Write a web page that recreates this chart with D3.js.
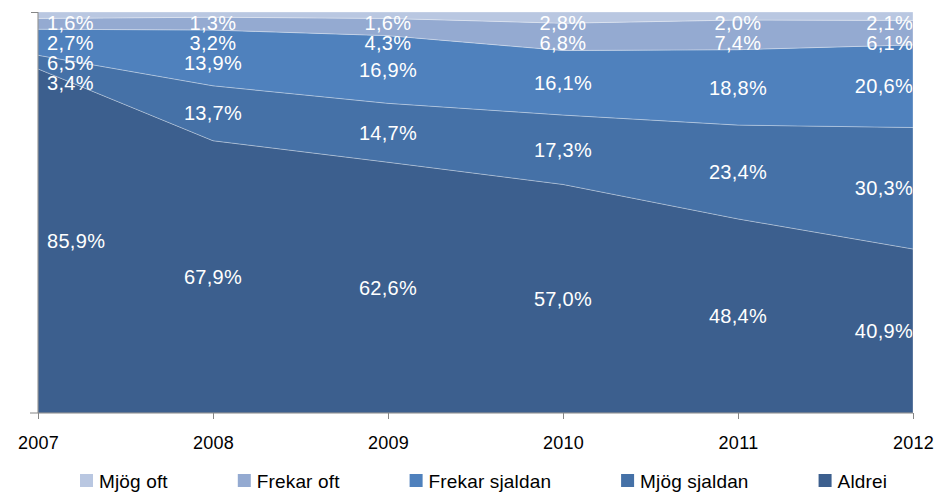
<!doctype html>
<html lang="sv">
<head>
<meta charset="UTF-8">
<title>Stacked area</title>
<script src="https://cdn.jsdelivr.net/npm/d3@7/dist/d3.min.js"></script>
<style>
  html, body { margin: 0; padding: 0; background: #fff; }
  svg text { font-family: "Liberation Sans", Arial, sans-serif; }
</style>
</head>
<body>
<div id="chart"></div>
<script>
// data (percent)
const years = [2007, 2008, 2009, 2010, 2011, 2012]
const seriesNames = ["Mjög oft", "Frekar oft", "Frekar sjaldan", "Mjög sjaldan", "Aldrei"]
const mjogOft       = [1.6, 1.3, 1.6, 2.8, 2.0, 2.1]
const frekarOft     = [2.7, 3.2, 4.3, 6.8, 7.4, 6.1]
const frekarSjaldan = [6.5, 13.9, 16.9, 16.1, 18.8, 20.6]
const mjogSjaldan   = [3.4, 13.7, 14.7, 17.3, 23.4, 30.3]
const aldrei        = [85.9, 67.9, 62.6, 57.0, 48.4, 40.9]

const colors = ["#b9c7e1", "#94aad1", "#4f81bd", "#4571a7", "#3c5f8e"]

const W = 939, H = 492
const plotLeft = 38, plotRight = 913, plotTop = 12, plotBottom = 413

// rows for d3.stack, bottom series first
const stackKeys = ["Aldrei", "Mjög sjaldan", "Frekar sjaldan", "Frekar oft", "Mjög oft"]
const valuesByName = {
    "Mjög oft": mjogOft, "Frekar oft": frekarOft, "Frekar sjaldan": frekarSjaldan,
    "Mjög sjaldan": mjogSjaldan, "Aldrei": aldrei
}
const rows = years.map((yr, i) => {
    let r = {year: yr}
    seriesNames.forEach(n => r[n] = valuesByName[n][i])
    return r
})

const stacked = d3.stack().keys(stackKeys).offset(d3.stackOffsetExpand)(rows)

const x = d3.scaleLinear().domain([years[0], years[years.length - 1]]).range([plotLeft, plotRight])
const y = d3.scaleLinear().domain([0, 1]).range([plotBottom, plotTop])

const svg = d3.select("#chart").append("svg").attr("width", W).attr("height", H)

const area = d3.area()
    .x(d => x(d.data.year))
    .y0(d => y(d[0]))
    .y1(d => y(d[1]))

const colorOf = name => colors[seriesNames.indexOf(name)]

svg.append("g").selectAll("path")
    .data(stacked)
    .join("path")
    .attr("d", area)
    .attr("fill", d => colorOf(d.key))
    .attr("stroke", "rgba(255,255,255,0.3)")
    .attr("stroke-width", 1)

// axes
const axisColor = "#868686"
const xAxis = svg.append("g").attr("transform", `translate(0,${plotBottom})`)
    .call(d3.axisBottom(x).tickValues(years).tickFormat(d3.format("d")).tickSize(6).tickPadding(17))
xAxis.select(".domain").attr("stroke", axisColor).attr("d", `M${plotLeft - 8},0H${plotRight}`)
xAxis.selectAll(".tick line").attr("stroke", axisColor)
xAxis.selectAll(".tick text").attr("fill", "#000").style("font-size", "18px").style("letter-spacing", "0.3px")

const yAxis = svg.append("g").attr("transform", `translate(${plotLeft},0)`)
    .call(d3.axisLeft(y).tickValues([1]).tickFormat("").tickSize(7))
yAxis.select(".domain").attr("stroke", axisColor).attr("d", `M0,${plotTop}V${plotBottom}`)
yAxis.selectAll(".tick line").attr("stroke", axisColor)

// data labels: centre of each band, pushed down when they collide
const labels = svg.append("g")
years.forEach((yr, i) => {
    let bands = stacked.slice().reverse().map(s => ({
        key: s.key,
        value: valuesByName[s.key][i],
        cy: (y(s[i][0]) + y(s[i][1])) / 2
    }))
    let prev = plotTop - 9
    bands.forEach(b => {
        b.ly = Math.max(b.cy, prev + 20)
        prev = b.ly
    })
    bands.forEach(b => {
        let anchor = i === 0 ? "start" : (i === years.length - 1 ? "end" : "middle")
        let lx = i === 0 ? x(yr) + 9 : x(yr)
        labels.append("text")
            .attr("x", lx)
            .attr("y", b.ly)
            .attr("dy", "0.36em")
            .attr("text-anchor", anchor)
            .attr("fill", "#fff")
            .style("font-size", "20px")
            .style("letter-spacing", "0.3px")
            .text(d3.format(".1f")(b.value).replace(".", ",") + "%")
    })
})

// legend
const legend = svg.append("g")
let legX = 80
seriesNames.forEach((n, i) => {
    legend.append("rect")
        .attr("x", legX).attr("y", 474)
        .attr("width", 13).attr("height", 13)
        .attr("fill", colors[i])
    let t = legend.append("text")
        .attr("x", legX + 19).attr("y", 488)
        .attr("fill", "#000")
        .style("font-size", "19px")
        .style("letter-spacing", "0.15px")
        .text(n)
    legX += 19 + t.node().getComputedTextLength() + 70
})
</script>
</body>
</html>
